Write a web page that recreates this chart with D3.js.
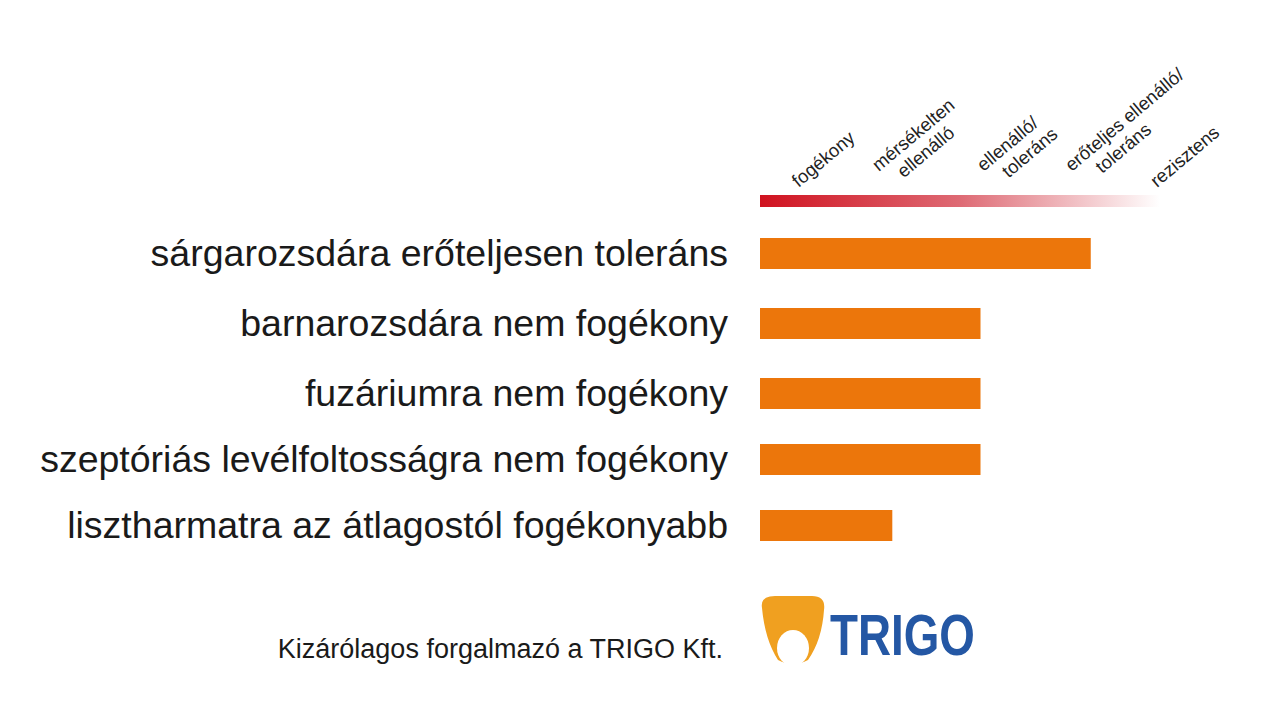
<!DOCTYPE html><html><head><meta charset="utf-8"><script src="https://d3js.org/d3.v7.min.js"></script>
<style>body{margin:0;background:#fff}text{font-family:"Liberation Sans",Arial,sans-serif}</style></head><body>
<svg id="c" width="1280" height="720"></svg>
<script>
const categories=["sárgarozsdára erőteljesen toleráns","barnarozsdára nem fogékony","fuzáriumra nem fogékony","szeptóriás levélfoltosságra nem fogékony","lisztharmatra az átlagostól fogékonyabb"];
const values=[3.0,2.0,2.0,2.0,1.2];
const levels=[["fogékony"],["mérsékelten","ellenálló"],["ellenálló/","toleráns"],["erőteljes ellenálló/","toleráns"],["rezisztens"]];
const levelPos=[0.35,1.15,2.1,2.9,3.6];
const svg=d3.select("#c");
const x=d3.scaleLinear().domain([0,4]).range([760,1201]);
const yc=[254,324,394,460,526];
const y=d3.scaleOrdinal().domain(categories).range(yc);
const g=svg.append("defs").append("linearGradient").attr("id","gr");
g.append("stop").attr("offset","0").attr("stop-color","#d0121f");
g.append("stop").attr("offset","0.5").attr("stop-color","#de6a74");
g.append("stop").attr("offset","1").attr("stop-color","#ffffff");
svg.append("rect").attr("x",x(0)).attr("y",195).attr("width",400).attr("height",12).attr("fill","url(#gr)");
levels.forEach((l,i)=>{
  const t=svg.append("text").attr("transform",`translate(${x(levelPos[i])+(l.length>1?-8:0)},${l.length>1?172:188}) rotate(-40)`).attr("font-size",18.5).attr("fill","#222");
  l.forEach((s,j)=>t.append("tspan").attr("dy",j?21:0).text(s).attr("x",j?(i==3?22:15):0));
});
svg.selectAll(".b").data(values).enter().append("rect").attr("x",x(0)).attr("y",(d,i)=>y(categories[i])-16).attr("height",31).attr("width",d=>x(d)-x(0)).attr("fill","#ec760b");
svg.selectAll(".l").data(categories).enter().append("text").attr("x",728).attr("y",d=>y(d)+12).attr("text-anchor","end").attr("font-size",37.5).attr("fill","#1a1a1a").text(d=>d);
svg.append("text").attr("x",723).attr("y",658).attr("text-anchor","end").attr("font-size",27).attr("fill","#1a1a1a").text("Kizárólagos forgalmazó a TRIGO Kft.");
const lg=svg.append("g");
lg.append("path").attr("d","M762,608 Q760,596 775,596 L812,596 Q826,596 824,610 Q822,640 808,660 Q793,668 778,660 Q765,640 762,608Z").attr("fill","#f0a020");
lg.append("ellipse").attr("cx",793).attr("cy",648).attr("rx",16).attr("ry",18).attr("fill","#fff");
lg.append("text").attr("x",830).attr("y",655).attr("font-size",58).attr("font-weight","bold").attr("font-family","DejaVu Sans Condensed").attr("fill","#2457a4").attr("textLength",145).attr("lengthAdjust","spacingAndGlyphs").text("TRIGO");
</script></body></html>
